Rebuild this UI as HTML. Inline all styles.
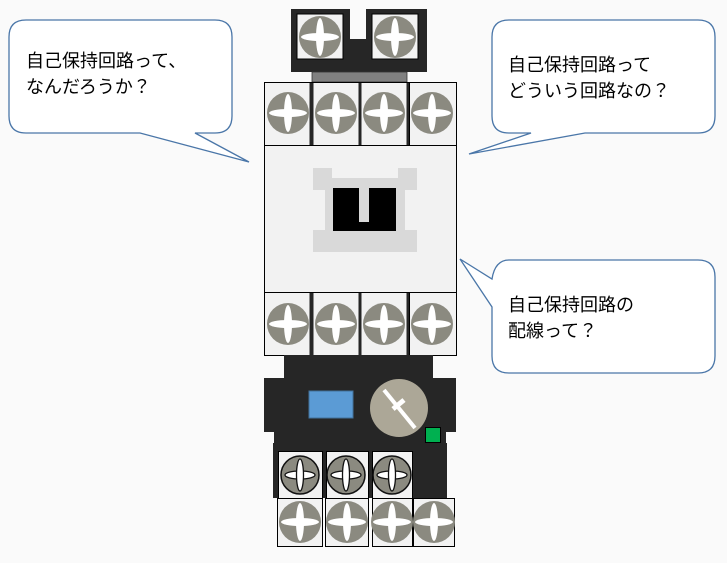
<!DOCTYPE html>
<html><head><meta charset="utf-8"><style>
html,body{margin:0;padding:0;background:#fafafa;}
svg{display:block}
text{font-family:"Liberation Sans","Noto Sans CJK JP",sans-serif;font-size:18px;fill:#000}
</style></head><body>
<svg width="727" height="563" viewBox="0 0 727 563" xmlns="http://www.w3.org/2000/svg">
<defs>
<g id="s">
<circle r="21" fill="#8b8a80"/>
<ellipse rx="19" ry="4" fill="#fff"/>
<ellipse rx="4" ry="19" fill="#fff"/>
</g>
<g id="d">
<circle r="19" fill="#8b8a80" stroke="#111" stroke-width="1.5"/>
<ellipse rx="15" ry="4" fill="#fff" stroke="#111" stroke-width="1.3"/>
<ellipse rx="3.5" ry="16" fill="#fff" stroke="#111" stroke-width="1.3"/>
</g>
</defs>
<rect width="727" height="563" fill="#fafafa"/>

<path d="M26,20 H215 Q232,20 232,37 V116 Q232,133 215,133 H195 L249,162 L140,133 H26 Q9,133 9,116 V37 Q9,20 26,20 Z" fill="#fff" stroke="#4a76a8" stroke-width="1.3"/>
<text x="26" y="67">自己保持回路って、</text>
<text x="26" y="93">なんだろうか？</text>

<path d="M509,20 H698 Q715,20 715,37 V116 Q715,133 698,133 H585 L469,154 L531,133 H509 Q492,133 492,116 V37 Q492,20 509,20 Z" fill="#fff" stroke="#4a76a8" stroke-width="1.3"/>
<text x="508" y="71">自己保持回路って</text>
<text x="508" y="97">どういう回路なの？</text>

<path d="M509,260 H698 Q715,260 715,277 V356 Q715,373 698,373 H509 Q492,373 492,356 V307 L460,259 L492,279 Q495,260 509,260 Z" fill="#fff" stroke="#4a76a8" stroke-width="1.3"/>
<text x="508" y="311">自己保持回路の</text>
<text x="508" y="337">配線って？</text>

<rect x="291" y="9" width="136" height="63" fill="#262626"/>
<rect x="350" y="0" width="16" height="39" fill="#fafafa"/>
<rect x="297" y="14" width="46" height="45" fill="#f2f2f2" stroke="#000"/>
<rect x="372" y="14" width="46" height="45" fill="#f2f2f2" stroke="#000"/>
<use href="#s" x="320" y="37"/>
<use href="#s" x="395" y="37"/>
<rect x="312" y="72" width="95" height="10" fill="#808080" stroke="#333" stroke-width="0.8"/>

<rect x="264.5" y="82.5" width="192" height="63" fill="#262626" stroke="#000"/>
<rect x="264.5" y="82.5" width="45" height="63" fill="#f2f2f2"/>
<rect x="313.5" y="82.5" width="45" height="63" fill="#f2f2f2"/>
<rect x="361.5" y="82.5" width="45" height="63" fill="#f2f2f2"/>
<rect x="409.5" y="82.5" width="47" height="63" fill="#f2f2f2" stroke="#000"/>
<rect x="264.5" y="82.5" width="192" height="63" fill="none" stroke="#000"/>
<use href="#s" x="288" y="113"/><use href="#s" x="336" y="113"/><use href="#s" x="384" y="113"/><use href="#s" x="432" y="113"/>

<rect x="264.5" y="145.5" width="192" height="147" fill="#f2f2f2" stroke="#000"/>
<rect x="313" y="168" width="104" height="22" fill="#d9d9d9"/>
<rect x="332" y="168" width="66" height="10" fill="#f2f2f2"/>
<rect x="325" y="178" width="80" height="65" fill="#d9d9d9"/>
<rect x="313" y="230" width="104" height="22" fill="#d9d9d9"/>
<rect x="333" y="188" width="63" height="43" fill="#000"/>
<rect x="359" y="188" width="10" height="34" fill="#d9d9d9"/>

<rect x="264.5" y="292.5" width="192" height="63" fill="#262626" stroke="#000"/>
<rect x="264.5" y="292.5" width="45" height="63" fill="#f2f2f2"/>
<rect x="313.5" y="292.5" width="45" height="63" fill="#f2f2f2"/>
<rect x="361.5" y="292.5" width="45" height="63" fill="#f2f2f2"/>
<rect x="409.5" y="292.5" width="47" height="63" fill="#f2f2f2" stroke="#000"/>
<rect x="264.5" y="292.5" width="192" height="63" fill="none" stroke="#000"/>
<use href="#s" x="288" y="324"/><use href="#s" x="336" y="324"/><use href="#s" x="384" y="324"/><use href="#s" x="432" y="324"/>

<rect x="284" y="355" width="149" height="30" fill="#262626"/>
<rect x="264" y="378" width="192" height="54" fill="#262626"/>
<rect x="274" y="430" width="172" height="20" fill="#262626"/>
<rect x="273" y="443" width="174" height="55" fill="#262626"/>
<rect x="309" y="391" width="44" height="27" fill="#5b9bd5" stroke="#41719c"/>
<circle cx="399" cy="408" r="29" fill="#aca797"/>
<line x1="384" y1="390" x2="415" y2="428" stroke="#fff" stroke-width="4"/>
<line x1="393" y1="409" x2="404" y2="400" stroke="#fff" stroke-width="5"/>
<rect x="425.5" y="427.5" width="15" height="15" fill="#00b050" stroke="#000"/>

<rect x="278.5" y="451.5" width="44" height="47" fill="#f2f2f2" stroke="#000"/>
<rect x="326.5" y="451.5" width="42" height="47" fill="#f2f2f2" stroke="#000"/>
<rect x="372.5" y="451.5" width="40" height="47" fill="#f2f2f2" stroke="#000"/>
<use href="#d" x="300" y="475"/><use href="#d" x="346" y="475"/><use href="#d" x="392" y="475"/>

<rect x="277.5" y="498.5" width="45" height="48" fill="#f2f2f2" stroke="#000"/>
<rect x="325.5" y="498.5" width="43" height="48" fill="#f2f2f2" stroke="#000"/>
<rect x="372.5" y="498.5" width="40" height="48" fill="#f2f2f2" stroke="#000"/>
<rect x="413.5" y="498.5" width="41" height="48" fill="#f2f2f2" stroke="#000"/>
<use href="#s" x="300" y="522"/><use href="#s" x="347" y="522"/><use href="#s" x="392" y="522"/><use href="#s" x="434" y="522"/>
</svg>
</body></html>
